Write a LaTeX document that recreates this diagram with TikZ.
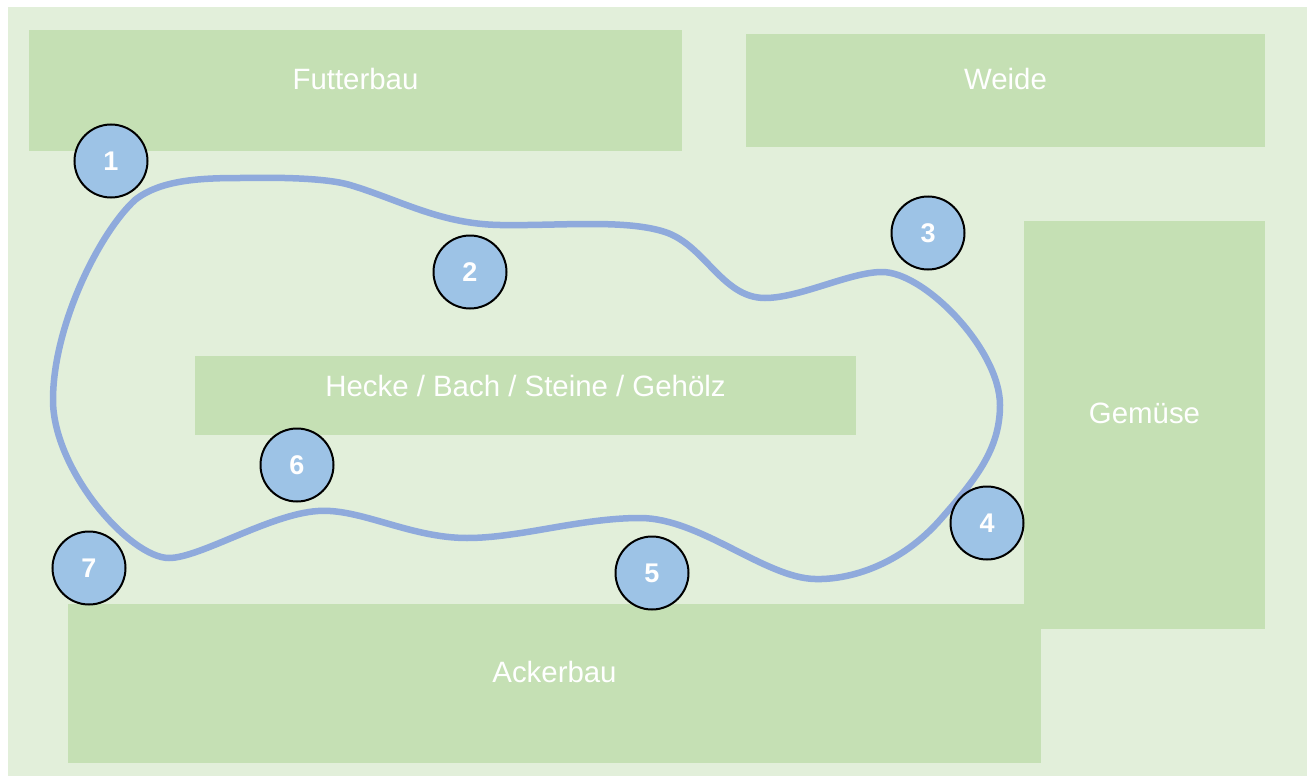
\documentclass[tikz,border=0pt]{standalone}
\usepackage{fontspec}
\setmainfont{Liberation Sans}
\definecolor{meadow}{HTML}{E2EFDA}
\definecolor{plot}{HTML}{C5E0B4}
\definecolor{station}{HTML}{9DC3E6}
\definecolor{trail}{HTML}{8FAADC}
\tikzset{
  field/.style={fill=plot, draw=none, inner sep=0pt, outer sep=0pt},
  fieldtext/.style={text=white, font=\fontsize{29.4}{35}\selectfont, inner sep=0pt},
  stop/.style={circle, draw=black, line width=2pt, fill=station, minimum size=73pt,
    inner sep=0pt, text=white, font=\fontsize{27}{32}\selectfont\bfseries},
  route/.style={draw=trail, line width=6.5pt, line join=round}
}
\begin{document}
\begin{tikzpicture}[x=1pt, y=-1pt]
  \useasboundingbox (0,0) rectangle (1307,776);
  % ground
  \fill[meadow] (8,7) rectangle (1307,776);

  % fields
  \node[field, minimum width=653pt, minimum height=121pt] (futter) at (355.5,90.5) {};
  \node[fieldtext] (futterlbl) at ([yshift=11.5pt]futter.center) {Futterbau};
  \node[field, minimum width=519pt, minimum height=113pt] (weide) at (1005.5,90.5) {};
  \node[fieldtext] (weidelbl) at ([yshift=11.5pt]weide.center) {Weide};
  \node[field, minimum width=661pt, minimum height=79pt] (hecke) at (525.5,395.5) {};
  \node[fieldtext] (heckelbl) at ([yshift=9.5pt]hecke.center) {Hecke / Bach / Steine / Gehölz};
  \node[field, minimum width=241pt, minimum height=408pt] (gemuese) at (1144.5,425) {};
  \node[fieldtext] (gemueselbl) at ([yshift=11.5pt]gemuese.center) {Gemüse};
  \node[field, minimum width=973pt, minimum height=159pt] (acker) at (554.5,683.5) {};
  \node[fieldtext] (ackerlbl) at ([yshift=11.5pt]acker.center) {Ackerbau};

  % walking route (closed loop)
  \draw[route]
    (240,178) .. controls (290,177) and (330,179) .. (350,185)
    .. controls (400,200) and (440,224) .. (500,225)
    .. controls (560,226) and (625,219) .. (665,232)
    .. controls (705,245) and (722,298) .. (765,298)
    .. controls (800,298) and (850,272) .. (882,272)
    .. controls (925,272) and (1000,350) .. (1000,405)
    .. controls (1000,450) and (975,480) .. (940,520)
    .. controls (900,565) and (850,580) .. (815,579)
    .. controls (765,578) and (700,518) .. (640,518)
    .. controls (580,518) and (520,538) .. (467,538)
    .. controls (410,538) and (360,508) .. (318,511)
    .. controls (270,514) and (200,558) .. (169,558)
    .. controls (130,558) and (53,470) .. (53,400)
    .. controls (53,325) and (100,232) .. (135,200)
    .. controls (160,180) and (200,178) .. cycle;

  % stations
  \node[stop] (s1) at (111,161) {1};
  \node[stop] (s2) at (470,272) {2};
  \node[stop] (s3) at (928,233) {3};
  \node[stop] (s4) at (987,523) {4};
  \node[stop] (s5) at (652,573) {5};
  \node[stop] (s6) at (297,465) {6};
  \node[stop] (s7) at (89,568) {7};
\end{tikzpicture}
\end{document}
